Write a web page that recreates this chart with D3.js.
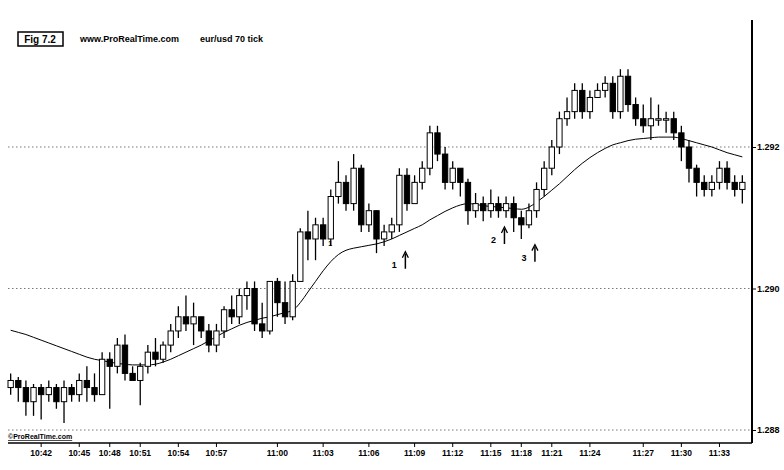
<!DOCTYPE html>
<html><head><meta charset="utf-8">
<script src="https://cdn.jsdelivr.net/npm/d3@7"></script>
<style>body{margin:0;background:#fff}svg{display:block;font-family:"Liberation Sans Narrow","Liberation Sans",Arial,sans-serif}</style>
</head><body><svg id="c" width="784" height="470"></svg>
<script>
// prices in pips above base (0.0001 units)
const base = 1.2880;
const opens =  [6,7,6,4,6,5,6,4,6,5,7,6,5,10,9,12,8,7,9,11,10,12,14,16,15,16,14,12,14,17,16,19,20,15,14,21,18,16,21,28,27,29,27,33,35,32,37,29,31,27,28,29,36,32,35,37,42,39,35,37,35,31,32,31,32,31,32,30,29,31,34,37,40,44,45,48,45,47,48,49,45,50,46,44,43,44,44,44,42,40,37,35,34,35,37,35,34];
const highs =  [8,7.5,7,6.5,6.5,7,6.5,7,6.5,8,9,8,11,11,13,13.5,9,9.5,12,13,12.5,15,17.5,19,18,16,15,15,17.5,19,20,21,21,18,21,21.5,21,22,28.5,31,30,30,34,38,36,39,37.5,32,31,29,30,37,37,36,38,43,43,40,38,37,35.5,33.5,33,34,33,33,33,31,32,35,38,41,45,47,49,49,48,49,50,50,51,51,47,46,47,46,45,45,43,41,37.5,36,36,38,38,36,36];
const lows =   [5,4,2,2,1.5,4,3,1,4,4,4,4,5,3,8,7,7.5,3.5,8,9,9.5,11,13,14,12,13,11,11,13,15,15,17,14,13,13.5,16,15,15.5,21,24,24,26,26,32,31,31,28,28,25,26,27,28,31,32,34,36,38,34,34,33,29,30,29.5,30,30,30,28,27,28.5,30,33,36,39,43,44,44,44,47,47,44,44,45,43,42,41,43,42,41,38,35,33,33,33,34,34,33,32];
const closes = [7,6,4,6,5,6,4,6,5,7,6,5,10,9,12,8,7,9,11,10,12,14,16,15,16,14,12,14,17,16,19,20,15,14,21,18,16,21,28,27,29,27,33,35,32,37,29,31,27,28,29,36,32,35,37,42,39,35,37,35,31,32,31,32,31,32,30,29,31,34,37,40,44,45,48,45,47,48,49,45,50,46,44,43,44,44,44,42,40,37,35,34,35,37,35,34,35];
const ma = [14.1,13.8,13.5,13.1,12.7,12.3,11.9,11.5,11.1,10.7,10.3,10.0,9.8,9.6,9.4,9.3,9.2,9.2,9.2,9.3,9.6,10.0,10.5,11.0,11.5,12.0,12.6,13.2,13.8,14.3,14.8,15.2,15.5,15.8,16.0,16.3,16.6,16.9,18.0,19.5,21.0,22.5,23.8,24.8,25.4,25.7,25.9,26.1,26.3,26.6,27.0,27.5,28.0,28.5,29.0,29.7,30.3,30.9,31.4,31.8,32.0,31.9,31.7,31.6,31.5,31.4,31.3,31.2,31.5,32.2,33.0,33.9,34.8,35.8,36.8,37.7,38.5,39.2,39.8,40.3,40.6,40.9,41.1,41.2,41.3,41.4,41.4,41.4,41.2,40.9,40.6,40.3,40.0,39.6,39.2,38.9,38.6];
const timeLabels = ["10:42","10:45","10:48","10:51","10:54","10:57","11:00","11:03","11:06","11:09","11:12","11:15","11:18","11:21","11:24","11:27","11:30","11:33"];
const timeIdx = [4,9,13,17,22,27,35,41,47,53,58,63,67,71,76,83,88,93];
const yTicks = [1.288,1.290,1.292];
const marks = [{t:"1",i:51,p:23.5},{t:"2",i:64,p:27},{t:"3",i:68,p:24.5}];

const svg = d3.select("#c");
const n = opens.length;
const x = d3.scaleBand().domain(d3.range(n)).range([8,745]).paddingInner(0.3);
const y = d3.scaleLinear().domain([1.288,1.292]).range([430,147]);
const P = v => y(base + v/10000);
const cx = i => x(i) + x.bandwidth()/2;

// grid
svg.append("g").selectAll("line").data(yTicks).join("line")
  .attr("x1",8).attr("x2",752).attr("y1",d=>y(d)).attr("y2",d=>y(d))
  .attr("stroke","#555").attr("stroke-width",0.8).attr("stroke-dasharray","1.5,2.5");

// right axis
const ra = svg.append("g").attr("transform","translate(752,0)")
  .call(d3.axisRight(y).tickValues(yTicks).tickFormat(d3.format(".3f")).tickSize(4));
ra.select(".domain").remove();
ra.selectAll("text").attr("font-size",9).attr("font-weight","bold").attr("dx",-2);
svg.append("line").attr("x1",752).attr("x2",752).attr("y1",20).attr("y2",443).attr("stroke","#000").attr("stroke-width",2);

// bottom axis
const xa = svg.append("g").attr("transform","translate(0,443)")
  .call(d3.axisBottom(x).tickValues(timeIdx).tickFormat((d,k)=>timeLabels[k]).tickSize(4));
xa.select(".domain").attr("d","M8,0H752").attr("stroke-width",1.5);
xa.selectAll("text").attr("font-size",8.5).attr("font-weight","bold");

// MA line
svg.append("path").datum(ma).attr("fill","none").attr("stroke","#000").attr("stroke-width",1)
  .attr("d", d3.line().x((d,i)=>cx(i)).y(d=>P(d)).curve(d3.curveMonotoneX));

// candles
const g = svg.append("g").selectAll("g").data(d3.range(n)).join("g");
g.append("line").attr("x1",cx).attr("x2",cx).attr("y1",i=>P(highs[i])).attr("y2",i=>P(lows[i]))
  .attr("stroke","#000").attr("stroke-width",1.3);
g.append("rect").attr("x",i=>x(i)).attr("width",x.bandwidth())
  .attr("y",i=>P(Math.max(opens[i],closes[i])))
  .attr("height",i=>Math.max(1.5,Math.abs(P(opens[i])-P(closes[i]))))
  .attr("fill",i=>closes[i]>=opens[i]?"#fff":"#000").attr("stroke","#000").attr("stroke-width",1);

// annotations
marks.forEach(m=>{
  const ax = cx(m.i)+6;
  svg.append("text").attr("x",cx(m.i)-5).attr("y",P(m.p)+4).attr("font-size",9).attr("font-weight","bold").attr("text-anchor","middle").text(m.t);
  svg.append("line").attr("x1",ax).attr("x2",ax).attr("y1",P(m.p)+5).attr("y2",P(m.p)-10).attr("stroke","#000").attr("stroke-width",1.5);
  svg.append("path").attr("d",`M${ax-3},${P(m.p)-6}L${ax},${P(m.p)-12}L${ax+3},${P(m.p)-6}`).attr("fill","none").attr("stroke","#000").attr("stroke-width",1.3);
});
svg.append("text").attr("x",cx(41)+5).attr("y",P(26.5)+3).attr("font-size",7).attr("font-weight","bold").text("1");

// header
svg.append("rect").attr("x",18).attr("y",32).attr("width",45).attr("height",14).attr("fill","none").attr("stroke","#000").attr("stroke-width",1.5);
svg.append("text").attr("x",40).attr("y",43).attr("text-anchor","middle").attr("font-size",10).attr("font-weight","bold").text("Fig 7.2");
svg.append("text").attr("x",80).attr("y",42).attr("font-size",9).attr("font-weight","bold").text("www.ProRealTime.com");
svg.append("text").attr("x",200).attr("y",42).attr("font-size",9).attr("font-weight","bold").text("eur/usd 70 tick");
svg.append("text").attr("x",8).attr("y",439).attr("font-size",7).attr("font-weight","bold").attr("text-decoration","underline").text("©ProRealTime.com");
</script></body></html>
